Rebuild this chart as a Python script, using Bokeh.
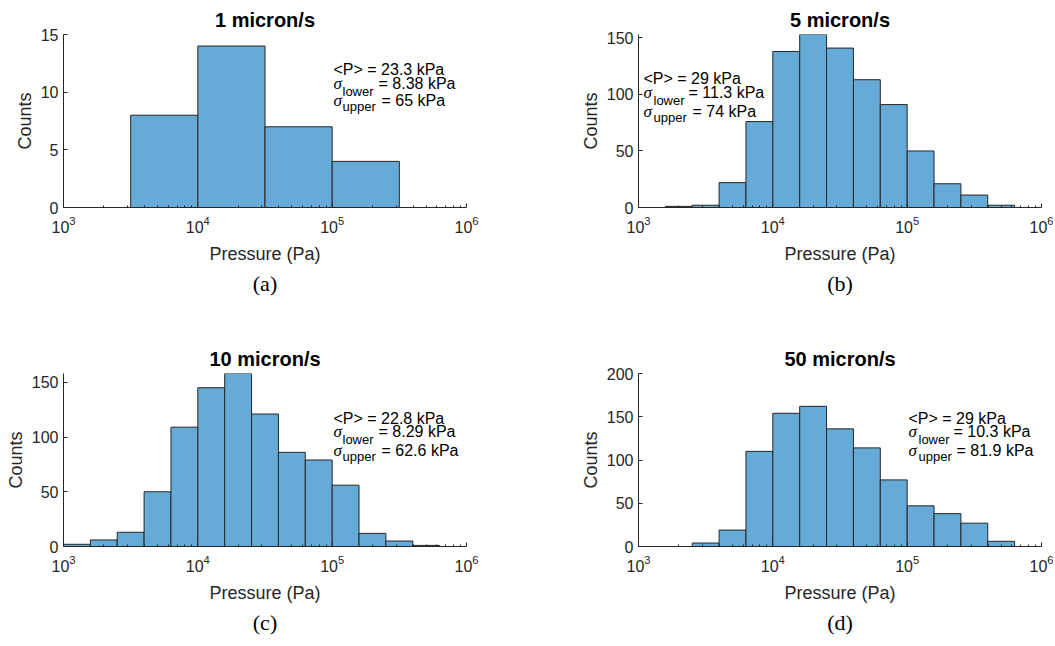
from bokeh.plotting import figure
from bokeh.models import Range1d, FixedTicker, LogTickFormatter, Label, Title
from bokeh.layouts import column, row
from bokeh.embed import file_html
from bokeh.resources import INLINE

# ---------------- data ----------------
titles = ["1 micron/s", "5 micron/s", "10 micron/s", "50 micron/s"]
captions = ["(a)", "(b)", "(c)", "(d)"]
x_label = "Pressure (Pa)"
y_label = "Counts"

# bin edges given as log10(Pressure / Pa)
a_edge_exp = [3.5, 4.0, 4.5, 5.0, 5.5]
a_counts = [8, 14, 7, 4]

b_edge_exp = [3.2, 3.4, 3.6, 3.8, 4.0, 4.2, 4.4, 4.6, 4.8, 5.0, 5.2, 5.4, 5.6, 5.8]
b_counts = [1, 2, 22, 76, 138, 153, 141, 113, 91, 50, 21, 11, 2]

c_edge_exp = [3.0, 3.2, 3.4, 3.6, 3.8, 4.0, 4.2, 4.4, 4.6, 4.8, 5.0, 5.2, 5.4, 5.6, 5.8]
c_counts = [2, 6, 13, 50, 109, 145, 158, 121, 86, 79, 56, 12, 5, 1]

d_edge_exp = [3.4, 3.6, 3.8, 4.0, 4.2, 4.4, 4.6, 4.8, 5.0, 5.2, 5.4, 5.6, 5.8]
d_counts = [4, 19, 110, 154, 162, 136, 114, 77, 47, 38, 27, 6]

mean_p = ["23.3", "29", "22.8", "29"]
sigma_lower = ["8.38", "11.3", "8.29", "10.3"]
sigma_upper = ["65", "74", "62.6", "81.9"]

y_max = [15, max(b_counts), max(c_counts), 200]
y_ticks = [[0, 5, 10, 15], [0, 50, 100, 150], [0, 50, 100, 150], [0, 50, 100, 150, 200]]
x_ticks = [1e3, 1e4, 1e5, 1e6]
x_minor = [m * 10 ** k for k in (3, 4, 5) for m in range(2, 10)]

edges_all = [a_edge_exp, b_edge_exp, c_edge_exp, d_edge_exp]
counts_all = [a_counts, b_counts, c_counts, d_counts]

# ---------------- style / layout ----------------
FW, FH = 403, 173
AX = "#262626"
BAR = "#66AAD7"
SANS = "Liberation Sans"
SERIF = "Liberation Serif"

borders = [
    dict(min_border_left=63, min_border_right=62, min_border_top=34, min_border_bottom=133),
    dict(min_border_left=110, min_border_right=12, min_border_top=34, min_border_bottom=133),
    dict(min_border_left=63, min_border_right=62, min_border_top=33, min_border_bottom=99),
    dict(min_border_left=110, min_border_right=12, min_border_top=33, min_border_bottom=99),
]

# annotation offsets (screen px relative to frame bottom-left)
ann = [
    dict(x=270, sx=279, ex1=315, ex2=318, y1=138, y2=124, y3=107),
    dict(x=5, sx=15, ex1=50, ex2=54, y1=129, y2=115, y3=96),
    dict(x=270, sx=279, ex1=315, ex2=318, y1=128, y2=115, y3=96),
    dict(x=270, sx=280, ex1=315, ex2=318, y1=128, y2=115, y3=96),
]


def lab(p, text, x, y, size, font=SANS, style="normal"):
    p.add_layout(Label(x=x, y=y, x_units="screen", y_units="screen", text=text,
                       text_font=font, text_font_size=f"{size}px", text_font_style=style,
                       text_align="left", text_baseline="alphabetic", text_color="black"))


def make_panel(i):
    p = figure(x_axis_type="log", x_range=Range1d(1e3, 1e6), y_range=Range1d(0, y_max[i]),
               frame_width=FW, frame_height=FH, title=None, tools="",
               toolbar_location=None, output_backend="svg", **borders[i])
    p.outline_line_color = None
    p.xgrid.visible = False
    p.ygrid.visible = False
    p.background_fill_color = "white"
    p.border_fill_color = "white"

    e = edges_all[i]
    left = [10 ** v for v in e[:-1]]
    right = [10 ** v for v in e[1:]]
    p.quad(left=left, right=right, bottom=0, top=counts_all[i],
           fill_color=BAR, line_color=AX, line_width=1)

    for ax in (p.xaxis[0], p.yaxis[0]):
        ax.axis_line_color = AX
        ax.axis_line_width = 1
        ax.major_tick_line_color = AX
        ax.major_tick_in = 4
        ax.major_tick_out = 0
        ax.minor_tick_in = 2
        ax.minor_tick_out = 0
        ax.minor_tick_line_color = AX
        ax.major_label_text_font = SANS
        ax.major_label_text_font_size = "16px"
        ax.major_label_text_color = AX
        ax.axis_label_text_font = SANS
        ax.axis_label_text_font_size = "18px"
        ax.axis_label_text_font_style = "normal"
        ax.axis_label_text_color = AX

    p.xaxis.ticker = FixedTicker(ticks=x_ticks, minor_ticks=x_minor)
    p.xaxis.formatter = LogTickFormatter()
    p.xaxis.major_label_standoff = 8
    p.xaxis.axis_label = x_label
    p.xaxis.axis_label_standoff = 8
    p.yaxis.ticker = FixedTicker(ticks=y_ticks[i])
    p.yaxis.minor_tick_line_color = None
    p.yaxis.major_label_standoff = 5
    p.yaxis.axis_label = y_label
    p.yaxis.axis_label_standoff = 3

    p.add_layout(Title(text=titles[i], align="center", text_font=SANS,
                       text_font_size="20px", text_font_style="bold",
                       text_color="black", standoff=7), "above")
    p.add_layout(Title(text=captions[i], align="center", text_font=SERIF,
                       text_font_size="22px", text_font_style="normal",
                       text_color="black", standoff=4), "below")

    # statistics annotation
    a = ann[i]
    lab(p, f"<P> = {mean_p[i]} kPa", a["x"], a["y1"], 16)
    lab(p, "\u03c3", a["x"], a["y2"], 17, font=SERIF, style="italic")
    lab(p, "lower", a["sx"], a["y2"] - 8, 13)
    lab(p, f"= {sigma_lower[i]} kPa", a["ex1"], a["y2"], 16)
    lab(p, "\u03c3", a["x"], a["y3"], 17, font=SERIF, style="italic")
    lab(p, "upper", a["sx"], a["y3"] - 6, 13)
    lab(p, f"= {sigma_upper[i]} kPa", a["ex2"], a["y3"], 16)
    return p


panels = [make_panel(i) for i in range(4)]
layout = column(row(panels[0], panels[1]), row(panels[2], panels[3]))

open("out.html", "w").write(file_html(layout, INLINE))
